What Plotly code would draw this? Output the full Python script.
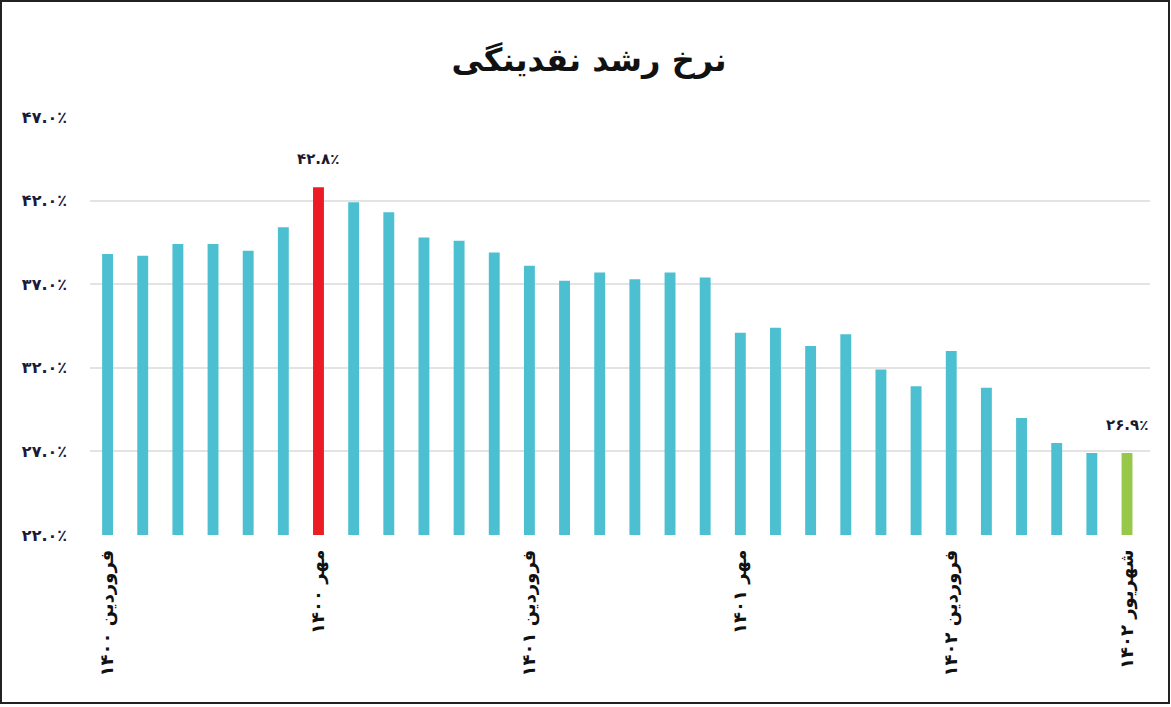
import plotly.graph_objects as go

# ---- data ----
months = [
    "فروردین ۱۴۰۰", "اردیبهشت ۱۴۰۰", "خرداد ۱۴۰۰", "تیر ۱۴۰۰", "مرداد ۱۴۰۰", "شهریور ۱۴۰۰",
    "مهر ۱۴۰۰", "آبان ۱۴۰۰", "آذر ۱۴۰۰", "دی ۱۴۰۰", "بهمن ۱۴۰۰", "اسفند ۱۴۰۰",
    "فروردین ۱۴۰۱", "اردیبهشت ۱۴۰۱", "خرداد ۱۴۰۱", "تیر ۱۴۰۱", "مرداد ۱۴۰۱", "شهریور ۱۴۰۱",
    "مهر ۱۴۰۱", "آبان ۱۴۰۱", "آذر ۱۴۰۱", "دی ۱۴۰۱", "بهمن ۱۴۰۱", "اسفند ۱۴۰۱",
    "فروردین ۱۴۰۲", "اردیبهشت ۱۴۰۲", "خرداد ۱۴۰۲", "تیر ۱۴۰۲", "مرداد ۱۴۰۲", "شهریور ۱۴۰۲",
]
growth = [
    38.8, 38.7, 39.4, 39.4, 39.0, 40.4,
    42.8, 41.9, 41.3, 39.8, 39.6, 38.9,
    38.1, 37.2, 37.7, 37.3, 37.7, 37.4,
    34.1, 34.4, 33.3, 34.0, 31.9, 30.9,
    33.0, 30.8, 29.0, 27.5, 26.9, 26.9,
]
shown_ticks = ["فروردین ۱۴۰۰", "مهر ۱۴۰۰", "فروردین ۱۴۰۱", "مهر ۱۴۰۱", "فروردین ۱۴۰۲", "شهریور ۱۴۰۲"]
y_ticks = [22, 27, 32, 37, 42, 47]
y_tick_labels = ["۲۲.۰٪", "۲۷.۰٪", "۳۲.۰٪", "۳۷.۰٪", "۴۲.۰٪", "۴۷.۰٪"]
labelled = {"مهر ۱۴۰۰": "۴۲.۸٪", "شهریور ۱۴۰۲": "۲۶.۹٪"}
title = "نرخ رشد نقدینگی"

TEAL, RED, GREEN = "#4cc0d0", "#ec1c24", "#98c84a"
colors = []
for m in months:
    if m == "مهر ۱۴۰۰":
        colors.append(RED)
    elif m == "شهریور ۱۴۰۲":
        colors.append(GREEN)
    else:
        colors.append(TEAL)

FONT = "DejaVu Sans"
W, H = 1171, 707
ML, MR, MT, MB = 90, 21, 117, 172

fig = go.Figure(go.Bar(
    x=months, y=growth, marker=dict(color=colors, line=dict(width=0)),
    hoverinfo="skip",
))

for m, lab in labelled.items():
    fig.add_annotation(x=m, y=growth[months.index(m)], text=lab, showarrow=False,
                       yshift=28, font=dict(family=FONT, size=15, color="#1a1a2e", weight="bold"))

pw = W - ML - MR
ph = H - MT - MB
fig.add_shape(type="rect", xref="paper", yref="paper",
              x0=(1 - ML) / pw, x1=(W - 2 - ML) / pw,
              y0=-(H - 4 - MT - ph) / ph, y1=(MT - 1) / ph + 1,
              line=dict(color="#222222", width=2), layer="above")

fig.update_layout(
    width=W, height=H,
    margin=dict(l=ML, r=MR, t=MT, b=MB),
    paper_bgcolor="white", plot_bgcolor="white",
    bargap=0.69,
    showlegend=False,
    title=dict(text=title, x=0.503, xanchor="center", y=0.915, yanchor="middle",
               font=dict(family=FONT, size=32, color="#111111", weight="bold")),
    xaxis=dict(
        type="category", tickmode="array", tickvals=shown_ticks, ticktext=shown_ticks,
        tickangle=-90, showgrid=False, showline=False, ticks="", ticklabelstandoff=10,
        tickfont=dict(family=FONT, size=18, color="#111111", weight="bold"),
    ),
    yaxis=dict(
        range=[22, 47], tickmode="array", tickvals=y_ticks, ticktext=y_tick_labels,
        showgrid=True, gridcolor="#e3e3e3", gridwidth=1.5, zeroline=False, showline=False,
        ticks="", ticklabelstandoff=22,
        tickfont=dict(family=FONT, size=16, color="#1a1a3a", weight="bold"),
    ),
)

fig.write_html("out.html", config={"displayModeBar": False},
               post_script="document.body.style.margin='0';document.body.style.overflow='hidden';")
